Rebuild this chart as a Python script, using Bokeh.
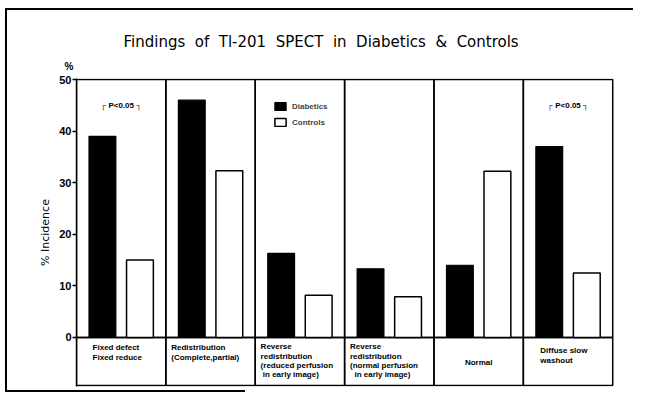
from bokeh.plotting import figure
from bokeh.models import (ColumnDataSource, Legend, LegendItem, FixedTicker,
                          Range1d, Title)
from bokeh.embed import file_html
from bokeh.resources import INLINE
from bokeh.core.properties import value

# ---------------- data ----------------
categories = [
    "Fixed defect\nFixed reduce",
    "Redistribution\n(Complete,partial)",
    "Reverse\nredistribution\n(reduced perfusion\n\u00a0in early image)",
    "Reverse\nredistribution\n(normal perfusion\n\u00a0\u00a0in early image)",
    "Normal",
    "Diffuse slow\nwashout",
]
diabetics = [39.0, 46.0, 16.3, 13.3, 14.0, 37.0]
controls = [15.0, 32.3, 8.2, 7.9, 32.2, 12.5]
significance = ["\u250c P<0.05 \u2510", "", "", "", "", "\u250c P<0.05 \u2510"]
y_ticks = [0, 10, 20, 30, 40, 50]
title_text = "Findings \u00a0of \u00a0Tl-201 \u00a0SPECT \u00a0in \u00a0Diabetics \u00a0& \u00a0Controls"
unit_text = "%"
series_names = ["Diabetics", "Controls"]

# ---------------- layout / style ----------------
W, H = 633, 393
BL, BT, BB = 76, 78, 7          # borders around the plotting frame
Y_TOP, Y_BOX, Y_MIN, Y_MAX = 50, -9.3, -9.5, 50.2
label_dx = [0.18, 0.06, 0.06, 0.06, 0.5, 0.19]
label_align = ["left", "left", "left", "left", "center", "left"]
label_y0 = [-2.0, -2.0, -1.8, -1.8, -4.9, -2.6]
LINE_STEP = 1.8
FONT = "Liberation Sans"

n = len(categories)
idx = list(range(n))

p = figure(width=W, height=H, output_backend="svg", toolbar_location=None,
           x_range=Range1d(0, n + 0.02), y_range=Range1d(Y_MIN, Y_MAX),
           min_border_left=BL, min_border_right=19, min_border_top=BT,
           min_border_bottom=BB)
p.xaxis.visible = False
p.grid.visible = False
p.outline_line_color = None
p.background_fill_color = "white"
p.border_fill_alpha = 0

# sheet border lines (left, top, bottom) drawn behind the transparent canvas border
p.styles = {
    "background-color": "white",
    "background-image": "linear-gradient(#000,#000), linear-gradient(#000,#000), linear-gradient(#000,#000)",
    "background-size": "2px 383px, 640px 2px, 240px 2px",
    "background-position": "5px 8px, 5px 8px, 5px 390px",
    "background-repeat": "no-repeat",
}

# titles
p.title.text = title_text
p.title.align = "left"
p.title.offset = 47
p.title.text_font = "DejaVu Sans"
p.title.text_font_style = "normal"
p.title.text_font_size = "15px"
p.title.text_line_height = 0.6
p.title.text_color = "black"
p.add_layout(Title(text=unit_text, align="left", offset=-12, text_font=FONT,
                   text_font_style="bold", text_font_size="10px",
                   vertical_align="top", text_color="black"), "above")

ax = p.yaxis[0]
ax.ticker = FixedTicker(ticks=y_ticks)
ax.minor_tick_line_color = None
ax.axis_line_color = "black"
ax.axis_line_width = 1.5
ax.major_tick_line_color = "black"
ax.major_tick_line_width = 1.5
ax.major_tick_out = 4
ax.major_tick_in = 0
ax.major_label_standoff = 1
ax.major_label_text_color = "black"
ax.major_label_text_font = FONT
ax.major_label_text_font_style = "bold"
ax.major_label_text_font_size = "11px"
ax.axis_label = "% Incidence"
ax.axis_label_text_color = "black"
ax.axis_label_text_font = "DejaVu Sans"
ax.axis_label_text_font_style = "normal"
ax.axis_label_text_font_size = "11px"
ax.axis_label_standoff = 4

# category cells (upper plotting cells and lower label cells)
cells = ColumnDataSource(dict(left=idx, right=[i + 1 for i in idx]))
p.quad(left="left", right="right", bottom=0, top=Y_TOP, source=cells,
       fill_color=None, line_color="black", line_width=1.5)
p.quad(left="left", right="right", bottom=Y_BOX, top=0, source=cells,
       fill_color=None, line_color="black", line_width=1.5)

# bars
src = ColumnDataSource(dict(xd=[i + 0.29 for i in idx], xc=[i + 0.71 for i in idx],
                            d=diabetics, c=controls))
rd = p.vbar(x="xd", top="d", bottom=0, width=0.30, source=src,
            fill_color="black", line_color="black", line_width=1.2)
rc = p.vbar(x="xc", top="c", bottom=0, width=0.30, source=src,
            fill_color="white", line_color="black", line_width=1.5)

# significance marks
sig_src = ColumnDataSource(dict(x=[i + 0.5 for i in idx], y=[45.0] * n, t=significance))
p.text(x="x", y="y", text="t", source=sig_src, text_align="center",
       text_baseline="middle", text_font=value(FONT), text_font_style="bold",
       text_font_size="8px", text_color="black")

# category labels
lx, ly, lt, la = [], [], [], []
for i, cat in enumerate(categories):
    for k, line in enumerate(cat.split("\n")):
        lx.append(i + label_dx[i])
        ly.append(label_y0[i] - k * LINE_STEP)
        lt.append(line)
        la.append(label_align[i])
lab_src = ColumnDataSource(dict(x=lx, y=ly, t=lt, a=la))
p.text(x="x", y="y", text="t", source=lab_src, text_align="a",
       text_baseline="middle", text_font=value(FONT), text_font_style="bold",
       text_font_size="8px", text_color="black")

# legend
legend = Legend(items=[LegendItem(label=series_names[0], renderers=[rd]),
                       LegendItem(label=series_names[1], renderers=[rc])],
                location=(197, 259), orientation="vertical",
                padding=0, margin=0, spacing=6, glyph_width=14, glyph_height=10,
                label_height=10, label_standoff=5, border_line_color=None,
                background_fill_alpha=0,
                label_text_font=FONT, label_text_font_style="bold",
                label_text_font_size="8px")
p.add_layout(legend)

open("out.html", "w").write(file_html(p, INLINE))
